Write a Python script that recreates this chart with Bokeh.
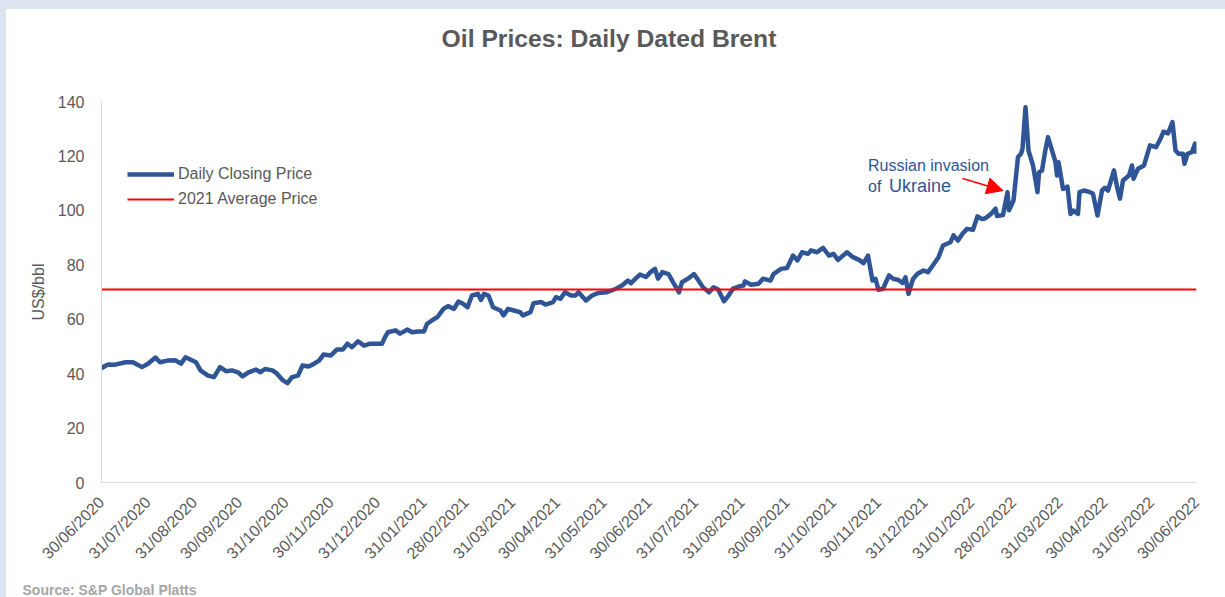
import math
import pandas as pd
from bokeh.plotting import figure
from bokeh.layouts import column
from bokeh.models import (ColumnDataSource, Range1d, FixedTicker, DatetimeTickFormatter,
                          Legend, LegendItem, Label, Arrow, NormalHead,
                          GlobalInlineStyleSheet)
from bokeh.embed import file_html
from bokeh.resources import INLINE

# ---------------- data ----------------
dates = [
    "2020-06-30", "2020-07-03", "2020-07-05", "2020-07-09", "2020-07-16", "2020-07-21", "2020-07-24",
    "2020-07-27", "2020-07-31", "2020-08-05", "2020-08-08", "2020-08-13", "2020-08-18", "2020-08-22",
    "2020-08-25", "2020-09-01", "2020-09-04", "2020-09-09", "2020-09-13", "2020-09-17", "2020-09-21",
    "2020-09-25", "2020-09-29", "2020-10-02", "2020-10-06", "2020-10-11", "2020-10-14", "2020-10-17",
    "2020-10-22", "2020-10-25", "2020-10-29", "2020-11-01", "2020-11-04", "2020-11-08", "2020-11-11",
    "2020-11-15", "2020-11-18", "2020-11-22", "2020-11-25", "2020-11-30", "2020-12-04", "2020-12-08",
    "2020-12-11", "2020-12-14", "2020-12-18", "2020-12-22", "2020-12-26", "2021-01-03", "2021-01-05",
    "2021-01-07", "2021-01-12", "2021-01-15", "2021-01-20", "2021-01-23", "2021-01-27", "2021-01-31",
    "2021-02-02", "2021-02-06", "2021-02-09", "2021-02-13", "2021-02-16", "2021-02-20", "2021-02-23",
    "2021-02-26", "2021-03-01", "2021-03-04", "2021-03-08", "2021-03-10", "2021-03-12", "2021-03-15",
    "2021-03-18", "2021-03-23", "2021-03-25", "2021-03-28", "2021-04-01", "2021-04-05", "2021-04-07",
    "2021-04-12", "2021-04-14", "2021-04-19", "2021-04-22", "2021-04-27", "2021-04-29", "2021-05-02",
    "2021-05-05", "2021-05-09", "2021-05-12", "2021-05-14", "2021-05-17", "2021-05-19", "2021-05-23",
    "2021-05-27", "2021-06-02", "2021-06-08", "2021-06-12", "2021-06-16", "2021-06-18", "2021-06-21",
    "2021-06-24", "2021-06-28", "2021-07-01", "2021-07-04", "2021-07-06", "2021-07-09", "2021-07-13",
    "2021-07-16", "2021-07-20", "2021-07-22", "2021-07-26", "2021-07-30", "2021-08-02", "2021-08-05",
    "2021-08-09", "2021-08-12", "2021-08-15", "2021-08-19", "2021-08-22", "2021-08-25", "2021-08-29",
    "2021-09-01", "2021-09-02", "2021-09-06", "2021-09-11", "2021-09-14", "2021-09-19", "2021-09-21",
    "2021-09-26", "2021-09-30", "2021-10-04", "2021-10-07", "2021-10-10", "2021-10-14", "2021-10-16",
    "2021-10-20", "2021-10-24", "2021-10-28", "2021-10-31", "2021-11-03", "2021-11-09", "2021-11-13",
    "2021-11-17", "2021-11-20", "2021-11-23", "2021-11-26", "2021-11-28", "2021-11-30", "2021-12-03",
    "2021-12-07", "2021-12-10", "2021-12-13", "2021-12-16", "2021-12-18", "2021-12-20", "2021-12-23",
    "2021-12-26", "2021-12-30", "2022-01-02", "2022-01-06", "2022-01-09", "2022-01-12", "2022-01-17",
    "2022-01-19", "2022-01-22", "2022-01-25", "2022-01-28", "2022-02-01", "2022-02-04", "2022-02-07",
    "2022-02-09", "2022-02-13", "2022-02-16", "2022-02-17", "2022-02-21", "2022-02-24", "2022-02-25",
    "2022-02-28", "2022-03-03", "2022-03-05", "2022-03-06", "2022-03-08", "2022-03-10", "2022-03-13",
    "2022-03-16", "2022-03-17", "2022-03-19", "2022-03-21", "2022-03-23", "2022-03-26", "2022-03-28",
    "2022-03-29", "2022-03-30", "2022-04-02", "2022-04-04", "2022-04-05", "2022-04-07", "2022-04-09",
    "2022-04-12", "2022-04-13", "2022-04-16", "2022-04-20", "2022-04-22", "2022-04-25", "2022-04-28",
    "2022-04-30", "2022-05-02", "2022-05-06", "2022-05-08", "2022-05-10", "2022-05-12", "2022-05-16",
    "2022-05-18", "2022-05-19", "2022-05-22", "2022-05-26", "2022-05-28", "2022-05-30", "2022-06-03",
    "2022-06-06", "2022-06-08", "2022-06-11", "2022-06-14", "2022-06-16", "2022-06-18", "2022-06-21",
    "2022-06-22", "2022-06-24", "2022-06-27", "2022-06-29", "2022-06-30",
]

prices = [
    42.0, 43.0, 43.4, 43.3, 44.2, 44.2, 43.3,
    42.4, 43.6, 45.9, 44.2, 44.8, 44.9, 43.7,
    46.0, 44.2, 41.2, 39.3, 38.7, 42.4, 40.9,
    41.2, 40.5, 39.0, 40.5, 41.5, 40.5, 41.7,
    41.2, 40.0, 37.5, 36.5, 38.7, 39.3, 43.0,
    42.6, 43.4, 44.8, 47.0, 46.7, 48.9, 48.9,
    51.0, 49.7, 51.9, 50.3, 51.0, 51.0, 53.4,
    55.2, 55.9, 54.7, 56.2, 55.2, 55.5, 55.5,
    58.3, 59.8, 60.8, 63.8, 64.8, 63.8, 66.5,
    65.7, 64.4, 68.7, 69.3, 67.1, 69.3, 68.7,
    64.4, 63.2, 61.4, 63.8, 63.2, 62.6, 61.4,
    62.6, 65.9, 66.3, 65.4, 66.3, 68.1, 67.5,
    69.9, 68.7, 68.7, 69.9, 68.1, 66.9, 68.7,
    69.6, 69.9, 71.2, 72.4, 74.2, 73.2, 74.9,
    76.4, 75.5, 77.3, 78.5, 74.9, 77.3, 76.6,
    73.6, 69.9, 73.6, 74.9, 76.6, 74.2, 71.7,
    69.9, 71.7, 71.0, 66.6, 68.7, 71.2, 72.0,
    72.4, 73.9, 72.7, 73.0, 74.9, 74.2, 76.6,
    78.5, 78.8, 83.4, 81.6, 84.6, 84.0, 85.3,
    84.6, 86.2, 83.4, 84.0, 81.8, 84.6, 82.8,
    81.8, 80.6, 83.4, 74.2, 74.8, 70.8, 71.2,
    76.1, 74.8, 74.5, 73.3, 75.4, 69.3, 74.8,
    76.7, 77.9, 77.3, 80.4, 82.8, 87.1, 88.3,
    90.8, 88.9, 91.4, 93.2, 92.9, 97.8, 96.8,
    97.0, 98.7, 100.6, 97.9, 98.3, 106.7, 100.0,
    103.6, 119.6, 120.8, 122.6, 137.9, 122.0, 116.5,
    106.7, 114.0, 114.6, 121.4, 126.9, 121.4, 117.7,
    112.8, 117.7, 107.9, 108.3, 108.7, 98.7, 99.9,
    98.7, 106.7, 107.3, 106.7, 106.1, 98.1, 107.3,
    108.3, 107.3, 114.7, 108.7, 104.3, 111.0, 112.8,
    116.5, 111.6, 115.3, 116.5, 120.2, 123.9, 123.2,
    126.3, 128.9, 128.3, 132.4, 122.0, 120.8, 120.8,
    117.1, 120.8, 121.4, 124.5, 120.8,
]

avg_2021 = 70.9

x_labels = [
    "30/06/2020", "31/07/2020", "31/08/2020", "30/09/2020", "31/10/2020", "30/11/2020",
    "31/12/2020", "31/01/2021", "28/02/2021", "31/03/2021", "30/04/2021", "31/05/2021",
    "30/06/2021", "31/07/2021", "31/08/2021", "30/09/2021", "31/10/2021", "30/11/2021",
    "31/12/2021", "31/01/2022", "28/02/2022", "31/03/2022", "30/04/2022", "31/05/2022",
    "30/06/2022",
]
y_ticks = [0, 20, 40, 60, 80, 100, 120, 140]

title_text = "Oil Prices: Daily Dated Brent"
source_text = "Source: S&P Global Platts"

# ---------------- helpers ----------------
EPOCH = pd.Timestamp("1970-01-01")


def to_ms(s, fmt=None):
    t = pd.to_datetime(s, format=fmt)
    return (t - EPOCH) / pd.Timedelta(milliseconds=1)


FONT = "Liberation Sans"
GREY = "#595959"
BLUE = "#2F5597"
RED = "#FF0000"
W = 1219


def text_strip(height):
    f = figure(width=W, height=height, x_range=Range1d(0, W), y_range=Range1d(0, height),
               output_backend="svg", toolbar_location=None, min_border=0,
               x_axis_location=None, y_axis_location=None, outline_line_color=None,
               background_fill_color="white", border_fill_color="white")
    f.xgrid.visible = False
    f.ygrid.visible = False
    try:
        f.frame_align = False
    except Exception:
        pass
    return f


# header with the title
header = text_strip(82)
header.add_layout(Label(x=602.5, y=53, text=title_text, text_align="center",
                        text_baseline="middle", text_font=FONT, text_font_size="24.7px",
                        text_font_style="bold", text_color=GREY))

# footer with the source note
footer = text_strip(25)
footer.add_layout(Label(x=16, y=8, text=source_text, text_align="left",
                        text_baseline="middle", text_font=FONT, text_font_size="14px",
                        text_font_style="bold", text_color="#A6A6A6"))

# main chart
x_ms = [to_ms(d) for d in dates]
x_ticks = [to_ms(l, "%d/%m/%Y") for l in x_labels]

p = figure(
    width=W, height=481,
    x_axis_type="datetime",
    x_range=Range1d(x_ms[0], x_ms[-1]),
    y_range=Range1d(0, 140),
    output_backend="svg", toolbar_location=None,
    min_border_left=95, min_border_right=29, min_border_top=10, min_border_bottom=90,
    background_fill_color="white", border_fill_color="white",
    outline_line_color=None,
)
try:
    p.frame_align = False
except Exception:
    pass
p.xgrid.visible = False
p.ygrid.visible = False

src = ColumnDataSource(dict(x=x_ms, y=prices))
r_price = p.line("x", "y", source=src, line_color=BLUE, line_width=4.5, line_join="round")
r_avg = p.line(x=[x_ms[0], x_ms[-1]], y=[avg_2021, avg_2021], line_color=RED, line_width=2)

ya = p.yaxis[0]
ya.ticker = FixedTicker(ticks=y_ticks)
ya.axis_label = "US$/bbl"
ya.axis_label_text_font = FONT
ya.axis_label_text_font_style = "normal"
ya.axis_label_text_font_size = "16px"
ya.axis_label_text_color = GREY
ya.axis_label_standoff = 8
ya.major_label_text_font = FONT
ya.major_label_text_font_size = "16px"
ya.major_label_text_color = GREY
ya.major_label_standoff = 11
ya.axis_line_color = "#D9D9D9"
ya.major_tick_line_color = None
ya.minor_tick_line_color = None

xa = p.xaxis[0]
xa.ticker = FixedTicker(ticks=x_ticks)
fmt = "%d/%m/%Y"
xa.formatter = DatetimeTickFormatter(days=fmt, months=fmt, years=fmt, hours=fmt,
                                     hourmin=fmt, minutes=fmt, minsec=fmt, seconds=fmt,
                                     milliseconds=fmt, microseconds=fmt)
xa.major_label_overrides = {t: l for t, l in zip(x_ticks, x_labels)}
xa.major_label_orientation = math.pi / 4
xa.major_label_text_font = FONT
xa.major_label_text_font_size = "16px"
xa.major_label_text_color = GREY
xa.major_label_standoff = 11
xa.axis_line_color = "#D9D9D9"
xa.major_tick_line_color = None
xa.minor_tick_line_color = None

legend = Legend(
    items=[LegendItem(label="Daily Closing Price", renderers=[r_price]),
           LegendItem(label="2021 Average Price", renderers=[r_avg])],
    location=(26, 273),
    glyph_width=47, glyph_height=20, label_height=20, spacing=5, label_standoff=4,
    padding=0, margin=0, border_line_color=None, background_fill_alpha=0,
    label_text_font=FONT, label_text_font_size="16px", label_text_color=GREY,
)
p.add_layout(legend)

p.add_layout(Label(x=to_ms("2021-11-23"), y=116.5, text="Russian invasion",
                   text_align="left", text_baseline="alphabetic", text_font=FONT,
                   text_font_size="16px", text_color=BLUE))
p.add_layout(Label(x=to_ms("2021-11-23"), y=108.8, text="of",
                   text_align="left", text_baseline="alphabetic", text_font=FONT,
                   text_font_size="16px", text_color=BLUE))
p.add_layout(Label(x=to_ms("2021-12-07"), y=108.8, text="Ukraine",
                   text_align="left", text_baseline="alphabetic", text_font=FONT,
                   text_font_size="18px", text_color=BLUE))
p.add_layout(Arrow(x_start=to_ms("2022-01-25"), y_start=111.7,
                   x_end=to_ms("2022-02-21"), y_end=107.3,
                   line_color=RED, line_width=1.5,
                   end=NormalHead(size=16, fill_color=RED, line_color=RED)))

page = column(header, p, footer, spacing=0)
page.stylesheets = [GlobalInlineStyleSheet(css="body { background: #DCE4F2; }")]
page.styles = {"margin-top": "9px", "margin-left": "6px", "background-color": "white"}

open("out.html", "w").write(file_html(page, INLINE))
